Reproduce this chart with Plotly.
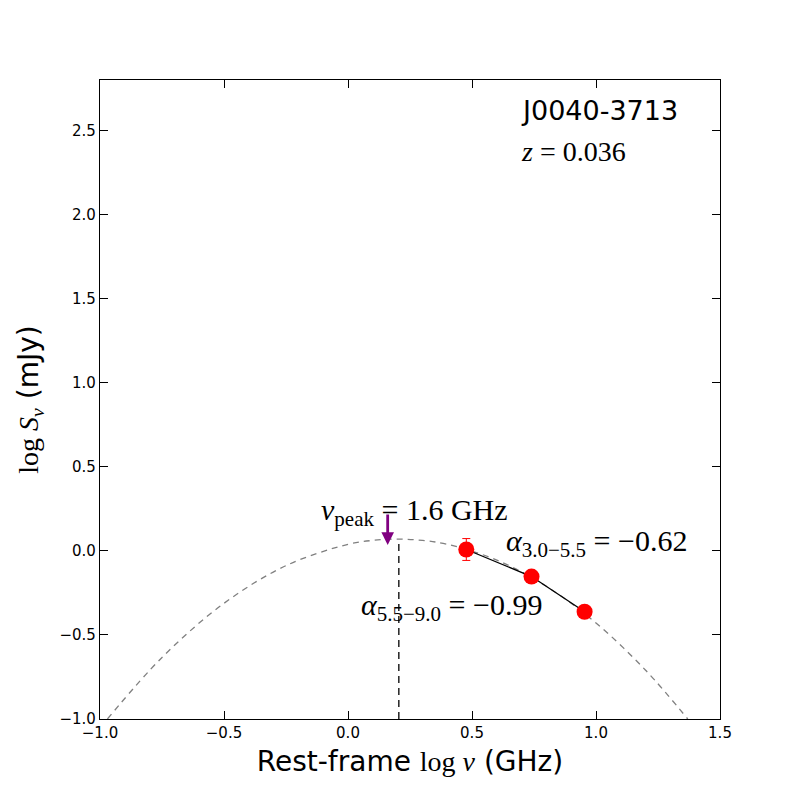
import plotly.graph_objects as go

# measured points (rest-frame log nu in GHz, log S in mJy)
log_nu = [0.477, 0.740, 0.954]
log_s = [0.008, -0.153, -0.362]
log_s_err = [0.065, 0.02, 0.02]

# fitted curve
curve_x = [-0.97, -0.75, -0.5, -0.25, 0.0, 0.1, 0.2, 0.3, 0.4, 0.6, 0.8, 1.0, 1.2, 1.37]
curve_y = [-1.0, -0.634, -0.312, -0.088, 0.039, 0.062, 0.07, 0.062, 0.039, -0.055, -0.211, -0.429, -0.71, -1.0]

peak_x = 0.205
peak_y = 0.07
limit_x = 0.16
limit_top = 0.225
limit_tip = 0.035

serif = "Liberation Serif"
sans = "DejaVu Sans"

fig = go.Figure()
fig.add_trace(go.Scatter(x=curve_x, y=curve_y, mode='lines', line_shape='spline',
                         line=dict(color='gray', width=1.3, dash='6px,5px')))
fig.add_trace(go.Scatter(x=[peak_x, peak_x], y=[-1.0, peak_y], mode='lines',
                         line=dict(color='black', width=1.3, dash='7px,5px')))
fig.add_trace(go.Scatter(x=log_nu, y=log_s, mode='lines',
                         line=dict(color='black', width=1.3)))
fig.add_trace(go.Scatter(x=log_nu, y=log_s, mode='markers',
                         marker=dict(color='red', size=16, line=dict(width=0)),
                         error_y=dict(type='data', array=log_s_err, color='red',
                                      thickness=1, width=4)))

fig.add_annotation(x=limit_x, y=limit_tip, ax=limit_x, ay=limit_top,
                   xref='x', yref='y', axref='x', ayref='y', text='',
                   showarrow=True, arrowhead=2, arrowsize=0.9, arrowwidth=2.8,
                   arrowcolor='purple')

fig.add_annotation(x=-0.118, y=0.23, xanchor='left', text='<i>ν</i><sub>peak</sub> = 1.6 GHz',
                   showarrow=False, font=dict(family=serif, size=30, color='black'))
fig.add_annotation(x=0.628, y=0.045, xanchor='left', text='<i>α</i><sub>3.0−5.5</sub> = −0.62',
                   showarrow=False, font=dict(family=serif, size=30, color='black'))
fig.add_annotation(x=0.043, y=-0.335, xanchor='left', text='<i>α</i><sub>5.5−9.0</sub> = −0.99',
                   showarrow=False, font=dict(family=serif, size=30, color='black'))
fig.add_annotation(x=0.69, y=2.62, xanchor='left', text='J0040-3713',
                   showarrow=False, font=dict(family=sans, size=27, color='black'))
fig.add_annotation(x=0.69, y=2.375, xanchor='left', text='<i>z</i> = 0.036',
                   showarrow=False, font=dict(family=serif, size=28, color='black'))

axis_style = dict(showline=True, linecolor='black', linewidth=1.3, mirror='ticks',
                  ticks='inside', ticklen=8, tickwidth=1, tickcolor='black',
                  showgrid=False, zeroline=False,
                  tickfont=dict(family=sans, size=15, color='black'))

fig.update_layout(
    width=800, height=800,
    margin=dict(l=92, r=88, t=72, b=89),
    plot_bgcolor='white', paper_bgcolor='white',
    showlegend=False,
    xaxis=dict(range=[-1.0, 1.5], dtick=0.5, tickformat='.1f',
               title=dict(text='Rest-frame <span style="font-family:Liberation Serif">log <i>ν</i></span> (GHz)',
                          font=dict(family=sans, size=28, color='black'), standoff=10),
               **axis_style),
    yaxis=dict(range=[-1.0, 2.8], dtick=0.5, tickformat='.1f',
               title=dict(text='<span style="font-family:Liberation Serif">log <i>S<sub>ν</sub></i></span> (mJy)',
                          font=dict(family=sans, size=28, color='black'), standoff=12),
               **axis_style),
)

fig.write_html("out.html")
